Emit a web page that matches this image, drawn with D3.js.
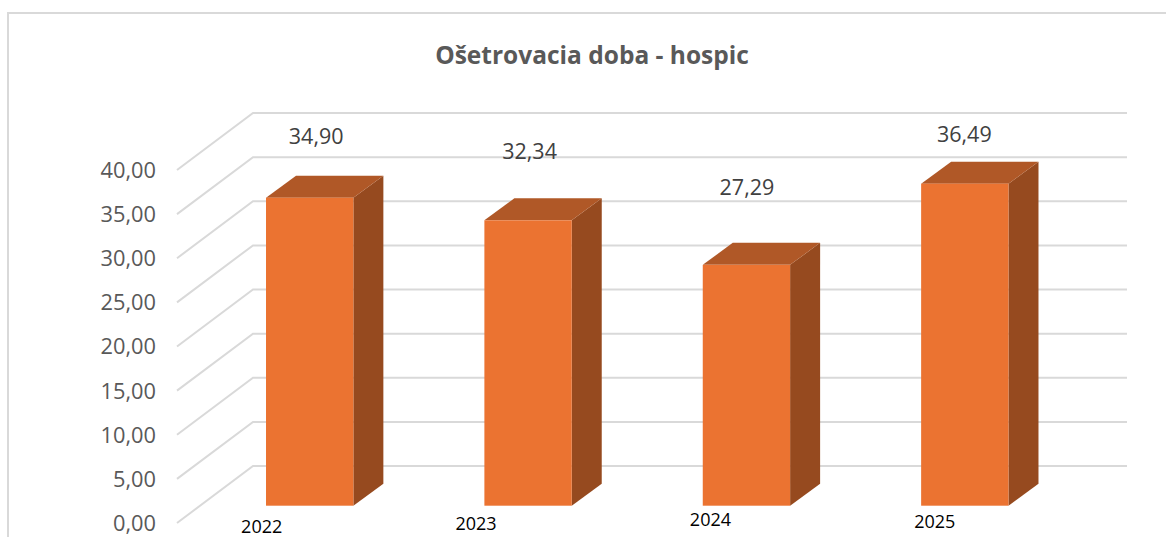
<!DOCTYPE html>
<html lang="en">

<head>
    <meta charset="UTF-8">
    <title>Ošetrovacia doba - hospic</title>
    <script src="https://cdnjs.cloudflare.com/ajax/libs/d3/7.8.5/d3.min.js"></script>
    <style>
        html, body { margin: 0; padding: 0; background: #fff; overflow: hidden; }
        svg { display: block; }
        text { font-family: "Open Sans", sans-serif; }
    </style>
</head>

<body>
    <div id="draw-here"></div>

    <script>
        var titleText = "Ošetrovacia doba - hospic";
        var years = ["2022", "2023", "2024", "2025"];
        var values = [34.90, 32.34, 27.29, 36.49];
        var yTicks = [0, 5, 10, 15, 20, 25, 30, 35, 40];

        // the labels in the original were moved by hand, so they get their own nudges
        var valueLabelNudge = [[6.5, 61], [1.5, 69], [0.5, 77], [-0.5, 49.5]];
        var yearLabelNudge = [[-48, 20.5], [-52, 18], [-36, 14], [-30, 16]];

        var w = 1166;
        var h = 537;
        var fmt = function(d) { return d.toFixed(2).replace(".", ","); };

        var svg = d3.select("#draw-here").append("svg")
            .attr("width", w)
            .attr("height", h);

        // chart frame, only left and top are visible in the crop
        svg.append("path")
            .attr("d", "M8," + h + "V13H" + w)
            .attr("fill", "none")
            .attr("stroke", "#d9d9d9")
            .attr("stroke-width", 2);

        svg.append("text")
            .text(titleText)
            .attr("x", 592)
            .attr("y", 64)
            .attr("text-anchor", "middle")
            .attr("font-size", "24.5px")
            .attr("font-weight", "bold")
            .attr("fill", "#595959");

        // one scale per plane: back wall, bar front, axis labels
        var yWall = d3.scaleLinear().domain([0, 40]).range([466, 113]);
        var yFront = d3.scaleLinear().domain([0, 40]).range([505.7, 152.7]);
        var yAxis = d3.scaleLinear().domain([0, 40]).range([523.5, 170.5]);

        var x = d3.scaleBand()
            .domain(years)
            .range([200.5, 1074])
            .paddingInner(0.6)
            .paddingOuter(0.3);

        var wallLeft = 253;
        var wallRight = 1127;
        var floorDx = 76;
        var floorDy = 57;
        var barDx = 30;
        var barDy = 22;

        // gridlines with the slanted piece on the side wall
        svg.selectAll(".grid")
            .data(yTicks)
            .enter()
            .append("path")
            .attr("class", "grid")
            .attr("d", function(d) {
                var y = yWall(d);
                return "M" + (wallLeft - floorDx) + "," + (y + floorDy) + "L" + wallLeft + "," + y + "H" + wallRight;
            })
            .attr("fill", "none")
            .attr("stroke", "#d9d9d9")
            .attr("stroke-width", 2);

        var axis = d3.axisLeft(yAxis)
            .tickValues(yTicks)
            .tickFormat(fmt)
            .tickSize(0)
            .tickPadding(0);

        var axisG = svg.append("g")
            .attr("transform", "translate(156,0)")
            .call(axis);
        axisG.select(".domain").remove();
        axisG.selectAll("text")
            .attr("font-size", "21.8px")
            .attr("fill", "#595959");

        var bars = svg.selectAll(".bar")
            .data(values)
            .enter()
            .append("g")
            .attr("class", "bar");

        // side face
        bars.append("path")
            .attr("d", function(d, i) {
                var xr = x(years[i]) + x.bandwidth();
                return "M" + xr + "," + yFront(d) + "l" + barDx + "," + (-barDy) + "V" + (yFront(0) - barDy) + "L" + xr + "," + yFront(0) + "Z";
            })
            .attr("fill", "#964a1f");

        // top face
        bars.append("path")
            .attr("d", function(d, i) {
                var xl = x(years[i]);
                return "M" + xl + "," + yFront(d) + "l" + barDx + "," + (-barDy) + "h" + x.bandwidth() + "l" + (-barDx) + "," + barDy + "Z";
            })
            .attr("fill", "#b05827");

        // front face
        bars.append("rect")
            .attr("x", function(d, i) { return x(years[i]); })
            .attr("y", function(d) { return yFront(d); })
            .attr("width", x.bandwidth())
            .attr("height", function(d) { return yFront(0) - yFront(d); })
            .attr("fill", "#eb7331");

        svg.selectAll(".value-label")
            .data(values)
            .enter()
            .append("text")
            .attr("class", "value-label")
            .text(fmt)
            .attr("x", function(d, i) { return x(years[i]) + x.bandwidth() / 2 + valueLabelNudge[i][0]; })
            .attr("y", function(d, i) { return yFront(d) - valueLabelNudge[i][1]; })
            .attr("dy", "0.35em")
            .attr("text-anchor", "middle")
            .attr("font-size", "21.5px")
            .attr("fill", "#404040");

        svg.selectAll(".year-label")
            .data(years)
            .enter()
            .append("text")
            .attr("class", "year-label")
            .text(function(d) { return d; })
            .attr("x", function(d, i) { return x(d) + x.bandwidth() / 2 + yearLabelNudge[i][0]; })
            .attr("y", function(d, i) { return yFront(0) + yearLabelNudge[i][1]; })
            .attr("dy", "0.35em")
            .attr("text-anchor", "middle")
            .attr("font-size", "18px")
            .attr("fill", "#000");
    </script>
</body>

</html>
